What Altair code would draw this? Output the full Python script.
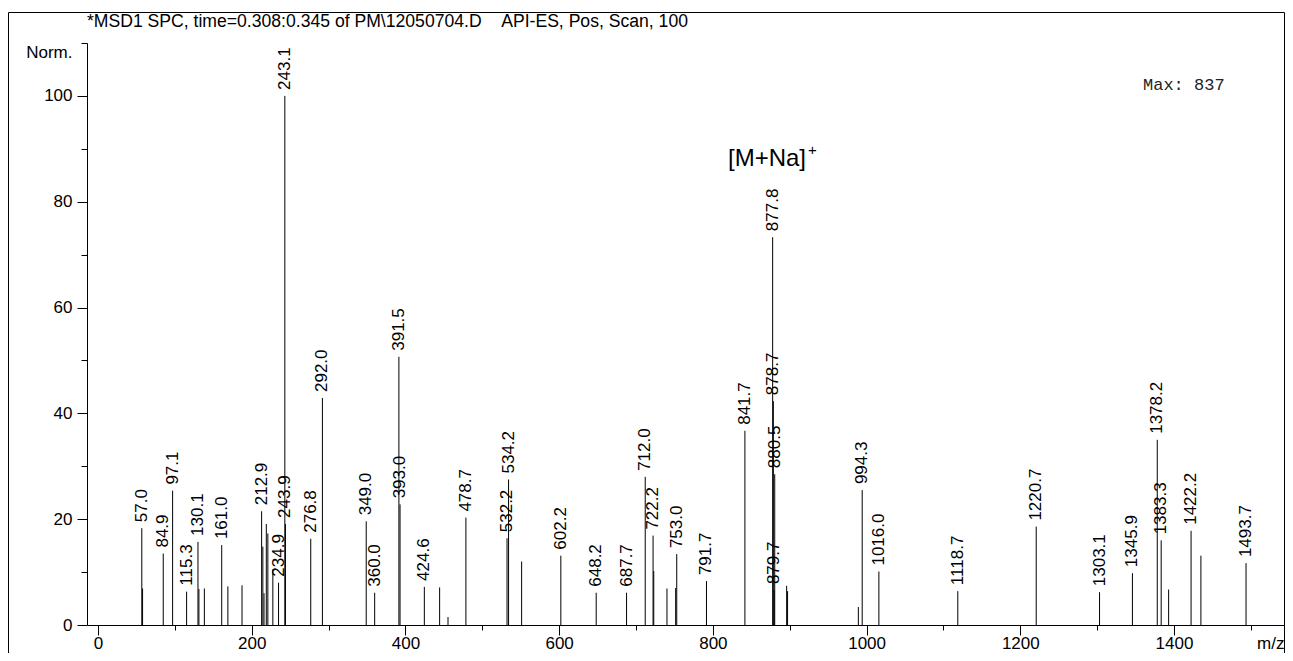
import altair as alt
import pandas as pd

# ---- data ----
labeled_mz = [57.0, 84.9, 97.1, 115.3, 130.1, 161.0, 212.9, 234.9, 243.1, 243.9,
              276.8, 292.0, 349.0, 360.0, 391.5, 393.0, 424.6, 478.7, 532.2, 534.2,
              602.2, 648.2, 687.7, 712.0, 722.2, 753.0, 791.7, 841.7, 877.8, 878.7,
              879.7, 880.5, 994.3, 1016.0, 1118.7, 1220.7, 1303.1, 1345.9, 1378.2, 1383.3,
              1422.2, 1493.7]
labeled_int = [18.3, 13.5, 25.4, 6.3, 15.7, 15.1, 21.5, 8.0, 100.0, 19.1,
               16.3, 42.9, 19.6, 6.1, 50.7, 22.8, 7.2, 20.3, 16.4, 27.5,
               13.1, 6.1, 6.1, 28.0, 16.9, 13.4, 8.3, 36.7, 73.3, 42.3,
               6.6, 28.5, 25.5, 10.1, 6.4, 18.6, 6.2, 9.8, 35.0, 16.0,
               17.8, 11.7]
other_mz = [58.0, 131.3, 138.4, 169.0, 187.4, 214.5, 216.0, 219.0, 221.0, 227.5,
            444.5, 455.4, 551.2, 723.1, 740.3, 751.6, 896.0, 897.2, 989.3, 1393.0,
            1435.0]
other_int = [6.9, 6.8, 6.9, 7.3, 7.5, 14.8, 6.0, 19.1, 17.3, 10.5,
             7.1, 1.5, 12.0, 10.2, 6.9, 7.0, 7.4, 6.4, 3.4, 6.7,
             13.1]

x_tick_values = list(range(0, 1501, 50))
y_tick_values = list(range(0, 111, 5))

title_text = "*MSD1 SPC, time=0.308:0.345 of PM\\12050704.D\u00a0\u00a0\u00a0\u00a0API-ES, Pos, Scan, 100"
max_text = "Max: 837"

peaks = pd.DataFrame({
    "mz": labeled_mz + other_mz,
    "intensity": labeled_int + other_int,
})
peaks["base"] = 0.0
labels = pd.DataFrame({
    "mz": labeled_mz,
    "intensity": labeled_int,
    "label": [f"{v:.1f}" for v in labeled_mz],
})

FONT = "Liberation Sans"
W, H = 1197, 582

xscale = alt.Scale(domain=[-14.3, 1543.1], nice=False, zero=False)
yscale = alt.Scale(domain=[0, 110], nice=False, zero=False)

x_axis = alt.Axis(
    values=x_tick_values,
    labelExpr="datum.value % 200 === 0 ? '' + datum.value : ''",
    tickSize={"condition": {"test": "datum.value % 200 === 0", "value": 10}, "value": 5},
    labelPadding=0,
    labelFlush=False,
    labelOverlap=False,
    title="m/z",
    titleX=1197,
    titleY=23,
    titleAlign="right",
    titleBaseline="alphabetic",
)
y_axis = alt.Axis(
    values=y_tick_values,
    labelExpr="datum.value % 20 === 0 ? '' + datum.value : ''",
    tickSize={"condition": {"test": "datum.value % 20 === 0", "value": 10}, "value": 6},
    labelPadding=5,
    labelOverlap=False,
    labelFlush=False,
    title="Norm.",
    titleAngle=0,
    titleX=-15,
    titleY=9,
    titleAlign="right",
    titleBaseline="middle",
)

rules = alt.Chart(peaks).mark_rule(color="black", strokeWidth=1).encode(
    x=alt.X("mz:Q", scale=xscale, axis=x_axis),
    y=alt.Y("intensity:Q", scale=yscale, axis=y_axis),
    y2=alt.Y2("base:Q"),
)

peak_labels = alt.Chart(labels).mark_text(
    angle=270, align="left", baseline="middle", dx=6,
    font=FONT, fontSize=17, color="black",
).encode(
    x=alt.X("mz:Q", scale=xscale),
    y=alt.Y("intensity:Q", scale=yscale),
    text="label:N",
)

one = pd.DataFrame({"k": [0]})

frame_top = alt.Chart(one).mark_rule(color="black", strokeWidth=1).encode(
    x=alt.value(-78.5), x2=alt.value(1197.5), y=alt.value(-30.5))
frame_left = alt.Chart(one).mark_rule(color="black", strokeWidth=1).encode(
    x=alt.value(-78.5), y=alt.value(-30.5), y2=alt.value(610))
frame_right = alt.Chart(one).mark_rule(color="black", strokeWidth=1).encode(
    x=alt.value(1197.5), y=alt.value(-30.5), y2=alt.value(610))

title_mark = alt.Chart(one).mark_text(
    align="left", baseline="middle", font=FONT, fontSize=17.6, color="black"
).encode(x=alt.value(0), y=alt.value(-21), text=alt.value(title_text))

max_mark = alt.Chart(one).mark_text(
    align="left", baseline="middle", font="Liberation Mono", fontSize=17, color="#222222"
).encode(x=alt.value(1056), y=alt.value(42), text=alt.value(max_text))

ion_mark = alt.Chart(one).mark_text(
    align="left", baseline="alphabetic", font=FONT, fontSize=24, color="black"
).encode(x=alt.value(641), y=alt.value(123), text=alt.value("[M+Na]"))

ion_sup = alt.Chart(one).mark_text(
    align="left", baseline="middle", font=FONT, fontSize=15, color="black"
).encode(x=alt.value(721), y=alt.value(107), text=alt.value("+"))

chart = alt.layer(
    rules, peak_labels, frame_top, frame_left, frame_right,
    title_mark, max_mark, ion_mark, ion_sup,
).properties(
    width=W, height=H,
    autosize=alt.AutoSizeParams(type="none"),
    padding={"left": 79, "top": 35, "right": 1, "bottom": 28},
).configure_axis(
    grid=False,
    labelFont=FONT, titleFont=FONT,
    labelFontSize=17, titleFontSize=17, titleFontWeight="normal",
    labelColor="black", titleColor="black",
    domainColor="black", tickColor="black",
    domainWidth=1, tickWidth=1,
).configure_view(stroke=None)

chart.save("out.html", embed_options={"renderer": "svg", "actions": False})
